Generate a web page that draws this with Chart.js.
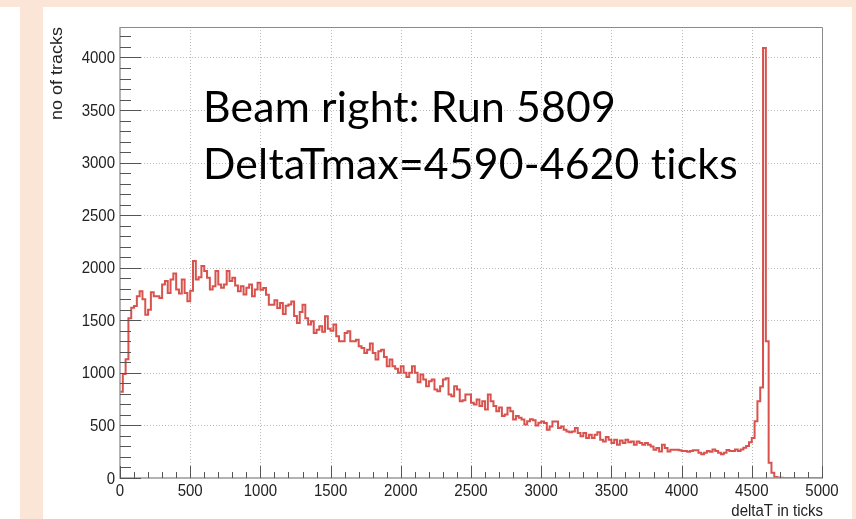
<!DOCTYPE html>
<html><head><meta charset="utf-8">
<script src="https://cdn.jsdelivr.net/npm/chart.js@4.4.1/dist/chart.umd.min.js"></script>
<style>
html,body{margin:0;padding:0;background:#fff;width:856px;height:519px;overflow:hidden;position:relative}
.bg{position:absolute;background:#fbe5d6}
#c{position:absolute;left:0;top:0}
</style></head><body>
<div class="bg" style="left:0;top:0;width:856px;height:7px"></div>
<div class="bg" style="left:20px;top:0;width:23px;height:519px"></div>
<div class="bg" style="left:852px;top:0;width:4px;height:519px"></div>
<canvas id="c" width="856" height="519"></canvas>
<script>
// ---- data ----
const binStart = 0;
const binWidth = 20;
const counts = [
  820, 990, 1130, 1520, 1620, 1635, 1730, 1777, 1700, 1554,
  1600, 1767, 1730, 1730, 1713, 1841, 1873, 1760, 1889, 1946,
  1793, 1755, 1889, 1760, 1682, 1780, 2064, 1889, 1910, 2016,
  1968, 1904, 1793, 1825, 1968, 1840, 1809, 1841, 1968, 1873,
  1904, 1831, 1777, 1825, 1745, 1809, 1841, 1730, 1793, 1857,
  1790, 1807, 1744, 1649, 1649, 1690, 1617, 1665, 1560, 1639,
  1650, 1680, 1540, 1475, 1580, 1649, 1520, 1459, 1490, 1380,
  1411, 1443, 1390, 1538, 1420, 1400, 1459, 1348, 1300, 1300,
  1380, 1396, 1300, 1300, 1316, 1253, 1237, 1190, 1221, 1280,
  1190, 1127, 1206, 1221, 1150, 1063, 1127, 1063, 1040, 1000,
  1063, 1000, 960, 1000, 1063, 1000, 911, 984, 937, 873,
  921, 937, 842, 826, 873, 937, 950, 794, 778, 873,
  842, 731, 740, 794, 794, 715, 699, 747, 684, 731,
  652, 794, 731, 684, 636, 670, 589, 604, 668, 636,
  557, 589, 573, 557, 509, 541, 560, 550, 500, 525,
  538, 522, 459, 490, 538, 538, 475, 490, 459, 443,
  434, 443, 475, 427, 396, 427, 380, 411, 380, 411,
  434, 364, 348, 390, 364, 332, 364, 316, 357, 332,
  364, 339, 348, 316, 348, 332, 316, 332, 316, 300,
  269, 285, 253, 316, 285, 253, 269, 269, 269, 263,
  256, 256, 250, 256, 263, 263, 240, 225, 240, 256,
  250, 272, 256, 240, 225, 240, 266, 256, 256, 272,
  256, 270, 288, 304, 340, 380, 540, 730, 860, 4090,
  1300, 145, 50, 10, 4, 2, 1, 0, 0, 0,
  0, 0, 0, 0, 0, 0, 0, 0, 0, 0
];
const xRange = [0, 5000];
const yRange = [0, 4290];
const xTickValues = [0, 500, 1000, 1500, 2000, 2500, 3000, 3500, 4000, 4500, 5000];
const xTickLabels = ['0', '500', '1000', '1500', '2000', '2500', '3000', '3500', '4000', '4500', '5000'];
const yTickValues = [0, 500, 1000, 1500, 2000, 2500, 3000, 3500, 4000];
const yTickLabels = ['0', '500', '1000', '1500', '2000', '2500', '3000', '3500', '4000'];
const xMinorStep = 100;
const yMinorStep = 100;
const xTitle = 'deltaT in ticks';
const yTitle = 'no of tracks';
const noteLines = ['Beam right: Run 5809', 'DeltaTmax=4590-4620 ticks'];

// ---- histogram outline points built from the bins ----
const points = [];
counts.forEach((c, i) => {
  const lo = binStart + i * binWidth;
  points.push({x: lo, y: c});
  points.push({x: lo + binWidth, y: c});
});

const LABEL_FONT = '15px "Liberation Sans", Arial, sans-serif';
const STRETCH = 1.09;

function stretchedText(ctx, text, x, y, align) {
  ctx.save();
  ctx.translate(x, y);
  ctx.scale(1, STRETCH);
  ctx.textAlign = align;
  ctx.textBaseline = 'alphabetic';
  ctx.fillText(text, 0, 0);
  ctx.restore();
}

const rootFrame = {
  id: 'rootFrame',
  beforeDatasetsDraw(chart) {
    const {ctx, chartArea: a, scales: {x, y}} = chart;
    ctx.save();
    ctx.strokeStyle = '#b8b8b8';
    ctx.lineWidth = 1;
    ctx.setLineDash([1, 2]);
    xTickValues.forEach(v => {
      if (v <= xRange[0] || v >= xRange[1]) return;
      const px = Math.round(x.getPixelForValue(v)) + 0.5;
      ctx.beginPath(); ctx.moveTo(px, a.top); ctx.lineTo(px, a.bottom); ctx.stroke();
    });
    yTickValues.forEach(v => {
      if (v <= yRange[0] || v >= yRange[1]) return;
      const py = Math.round(y.getPixelForValue(v)) + 0.5;
      ctx.beginPath(); ctx.moveTo(a.left, py); ctx.lineTo(a.right, py); ctx.stroke();
    });
    ctx.restore();
  },
  afterDatasetsDraw(chart) {
    const {ctx, chartArea: a, scales: {x, y}} = chart;
    ctx.save();
    // frame (top, right)
    ctx.strokeStyle = '#8a8a8a';
    ctx.lineWidth = 1;
    ctx.beginPath();
    ctx.moveTo(a.left, a.top + 0.5); ctx.lineTo(a.right + 0.5, a.top + 0.5); ctx.lineTo(a.right + 0.5, a.bottom);
    ctx.stroke();
    // axes lines
    ctx.strokeStyle = '#9a9a9a';
    ctx.lineWidth = 1.5;
    ctx.beginPath();
    ctx.moveTo(a.left, a.top); ctx.lineTo(a.left, a.bottom); ctx.lineTo(a.right + 1, a.bottom);
    ctx.stroke();
    // y ticks
    ctx.strokeStyle = '#555';
    ctx.lineWidth = 1;
    for (let v = yRange[0]; v <= yRange[1]; v += yMinorStep) {
      const major = yTickValues.includes(v);
      const py = Math.round(y.getPixelForValue(v)) + 0.5;
      ctx.beginPath(); ctx.moveTo(a.left, py); ctx.lineTo(a.left + (major ? 21 : 11), py); ctx.stroke();
    }
    // x ticks
    for (let v = xRange[0]; v <= xRange[1]; v += xMinorStep) {
      const major = xTickValues.includes(v);
      const px = Math.round(x.getPixelForValue(v)) + 0.5;
      ctx.beginPath(); ctx.moveTo(px, a.bottom); ctx.lineTo(px, a.bottom - (major ? 12 : 6)); ctx.stroke();
    }
    // tick labels
    ctx.fillStyle = '#222';
    ctx.font = LABEL_FONT;
    yTickValues.forEach((v, i) => {
      const py = y.getPixelForValue(v);
      stretchedText(ctx, yTickLabels[i], a.left - 5, py + 5.5, 'right');
    });
    xTickValues.forEach((v, i) => {
      const px = x.getPixelForValue(v);
      stretchedText(ctx, xTickLabels[i], px, a.bottom + 18, 'center');
    });
    // axis titles
    stretchedText(ctx, xTitle, a.right + 1, a.bottom + 38, 'right');
    ctx.save();
    ctx.font = '16.5px "Liberation Sans", Arial, sans-serif';
    ctx.translate(62, a.top);
    ctx.rotate(-Math.PI / 2);
    ctx.scale(STRETCH, 1);
    ctx.textAlign = 'right';
    ctx.textBaseline = 'alphabetic';
    ctx.fillText(yTitle, 0, 0);
    ctx.restore();
    // annotation
    ctx.fillStyle = '#000';
    if ('letterSpacing' in ctx) ctx.letterSpacing = '0.2px';
    let size = 42;
    ctx.font = size + 'px Lato, "Open Sans", sans-serif';
    const w = ctx.measureText(noteLines[1]).width;
    size = size * 535 / w;
    ctx.font = size.toFixed(2) + 'px Lato, "Open Sans", sans-serif';
    ctx.textAlign = 'left';
    ctx.textBaseline = 'alphabetic';
    ctx.fillText(noteLines[0], 203, 121.5);
    ctx.fillText(noteLines[1], 203, 178.5);
    ctx.restore();
  }
};

new Chart(document.getElementById('c'), {
  type: 'line',
  data: {
    datasets: [{
      data: points,
      borderColor: '#d8524e',
      borderWidth: 2,
      pointRadius: 0,
      tension: 0,
      fill: false
    }]
  },
  options: {
    responsive: false,
    animation: false,
    layout: {padding: {left: 120, top: 27, right: 34, bottom: 41}},
    scales: {
      x: {type: 'linear', min: xRange[0], max: xRange[1], display: false},
      y: {type: 'linear', min: yRange[0], max: yRange[1], display: false}
    },
    plugins: {legend: {display: false}, tooltip: {enabled: false}}
  },
  plugins: [rootFrame]
});
</script>
</body></html>
